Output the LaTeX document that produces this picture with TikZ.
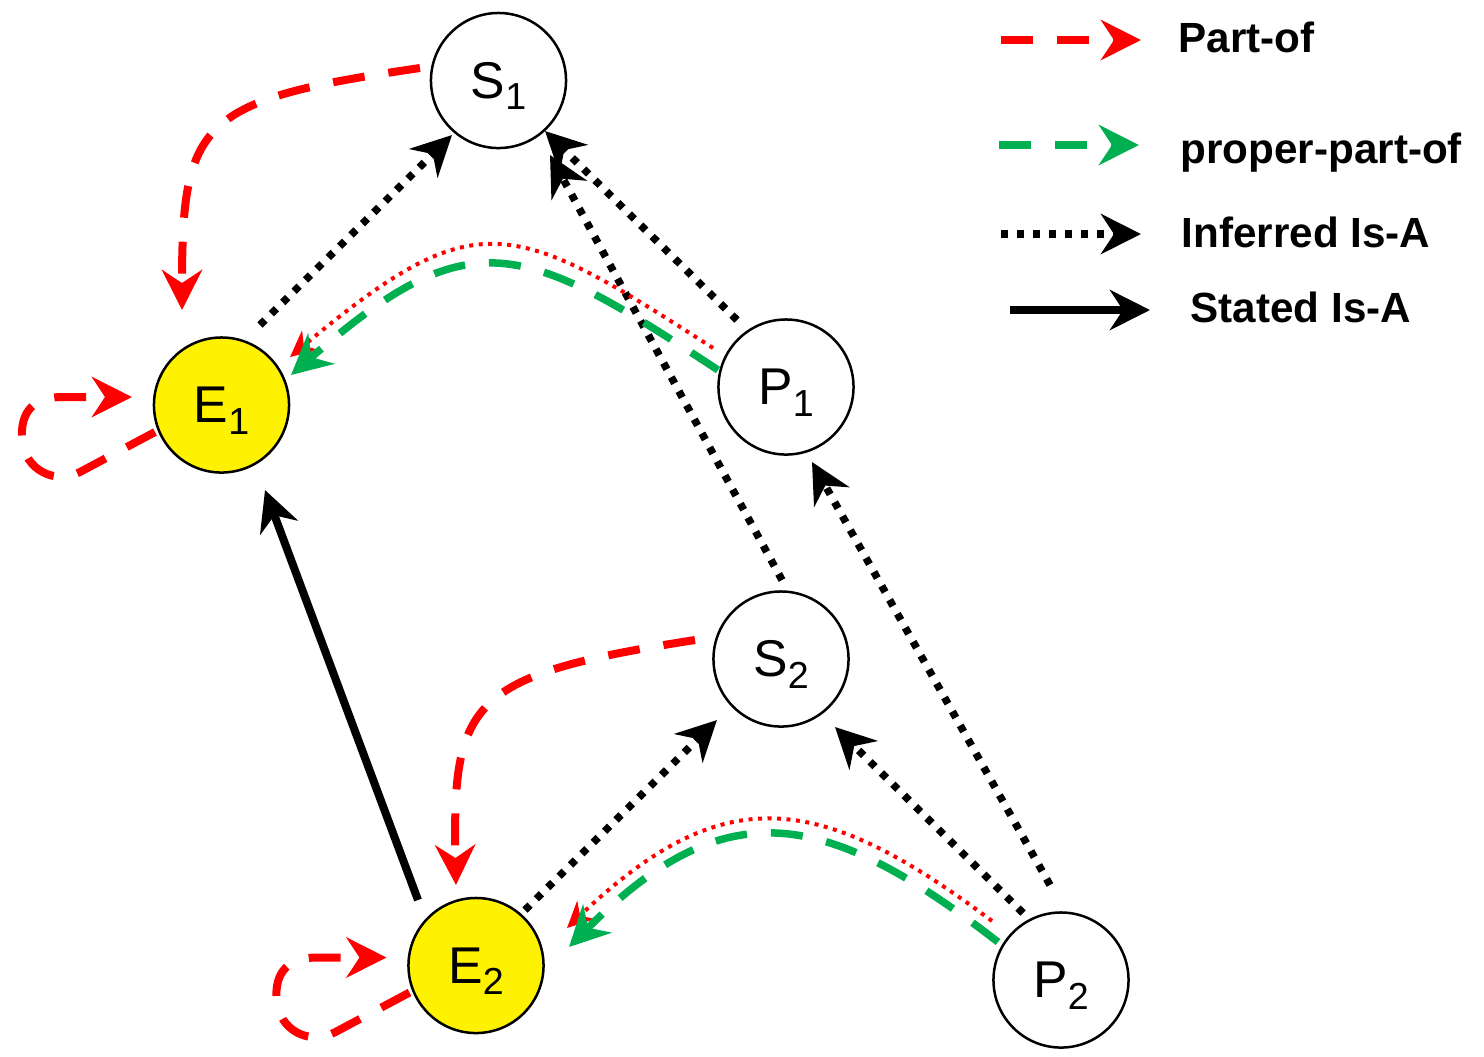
\documentclass[tikz,border=0pt]{standalone}
\usepackage{fontspec}
\setmainfont{Liberation Sans}
\usetikzlibrary{arrows.meta,calc}

% label with a lowered index that does not enlarge the box
\newcommand\idxlabel[2]{#1\raisebox{-3.3pt}[0pt][0pt]{\fontsize{10.7}{12}\selectfont #2}}

\definecolor{ppgreen}{RGB}{0,176,80}

\begin{document}
\begin{tikzpicture}[x=0.01cm,y=-0.01cm,
  concept/.style={circle,draw=black,line width=0.025cm,minimum size=1.35cm,
    inner sep=0pt,font=\fontsize{14.7}{16}\selectfont},
  entity/.style={concept,fill=yellow},
  bighead/.style={-{Stealth[length=0.4cm,width=0.4cm,inset=0.13cm]}},
  smallhead/.style={-{Stealth[length=0.26cm,width=0.25cm,inset=0.08cm]}},
  partof/.style={draw=red,line width=0.08cm,dash pattern=on 0.32cm off 0.24cm,bighead},
  properpart/.style={draw=ppgreen,line width=0.075cm,dash pattern=on 0.32cm off 0.24cm,bighead},
  partdot/.style={draw=red,line width=0.04cm,dash pattern=on 0.04cm off 0.055cm,smallhead},
  inferred/.style={draw=black,line width=0.075cm,dash pattern=on 0.07cm off 0.09cm,bighead},
  stated/.style={draw=black,line width=0.08cm,bighead},
  legendtext/.style={anchor=base west,inner sep=0pt,font=\fontsize{12}{14}\selectfont\bfseries}]

\useasboundingbox (0,0) rectangle (1484,1056);

% concepts
\node[concept] (S1) at (498.5,80.5) {\idxlabel{S}{1}};
\node[entity]  (E1) at (221.5,405)  {\idxlabel{E}{1}};
\node[concept] (P1) at (786,387)    {\idxlabel{P}{1}};
\node[concept] (S2) at (781,659)    {\idxlabel{S}{2}};
\node[entity]  (E2) at (476,965.5)  {\idxlabel{E}{2}};
\node[concept] (P2) at (1061,980)   {\idxlabel{P}{2}};

% part-of relations
\draw[partof] ($(S1)+(-78.5,-12.5)$) .. controls (200,100) and (182,120) .. ($(E1)+(-39.5,-95)$);
\draw[partof] ($(S2)+(-86,-19)$) .. controls (470,675) and (452,700) .. ($(E2)+(-20,-80.5)$);
\foreach \n in {E1,E2}{
  \draw[partof] ($(\n)+(-66.5,27)$) -- ($(\n)+(-141.5,67)$)
    .. controls ($(\n)+(-166.5,80)$) and ($(\n)+(-196.5,65)$) .. ($(\n)+(-199.5,35)$)
    .. controls ($(\n)+(-201.5,5)$) and ($(\n)+(-186.5,-7)$) .. ($(\n)+(-161.5,-8)$)
    -- ($(\n)+(-89.5,-8)$);
}

% inferred is-a relations
\draw[inferred] ($(E1)+(38.5,-80)$) -- ($(S1)+(-46.5,54.5)$);
\draw[inferred] ($(P1)+(-49,-67)$) -- ($(S1)+(46.5,50.5)$);
\draw[inferred] ($(S2)+(1,-79)$) -- ($(S1)+(51.5,74.5)$);
\draw[inferred] ($(P2)+(-11,-95)$) -- ($(P1)+(26,75)$);
\draw[inferred] ($(P2)+(-38,-67)$) -- ($(S2)+(54,68)$);
\draw[inferred] ($(E2)+(49,-55.5)$) -- ($(S2)+(-64,61)$);

% stated is-a relation
\draw[stated] ($(E2)+(-58,-65.5)$) -- ($(E1)+(43.5,85)$);

% proper-part-of and derived part-of relations
\draw[partdot] ($(P1)+(-73,-39)$) .. controls (511,218) and (477,201) .. ($(E1)+(68.5,-48)$);
\draw[properpart] ($(P1)+(-68,-17)$) .. controls (521,240) and (470,219) .. ($(E1)+(69.5,-30)$);
\draw[partdot] ($(P2)+(-69,-59)$) .. controls (819,791) and (723,779) .. ($(E2)+(91,-37.5)$);
\draw[properpart] ($(P2)+(-63,-38)$) .. controls (825,808) and (725,790) .. ($(E2)+(93,-18.5)$);

% legend
\coordinate (l1a) at (1001,40);  \coordinate (l1b) at (1141,40);
\coordinate (l2a) at (999,145);  \coordinate (l2b) at (1139,145);
\coordinate (l3a) at (1001,234); \coordinate (l3b) at (1141,234);
\coordinate (l4a) at (1010,310); \coordinate (l4b) at (1150,310);
\draw[partof] (l1a) -- (l1b);
\draw[properpart] (l2a) -- (l2b);
\draw[inferred] (l3a) -- (l3b);
\draw[stated] (l4a) -- (l4b);
\node[legendtext] (t1) at (1178,52)  {Part-of};
\node[legendtext] (t2) at (1180,163) {proper-part-of};
\node[legendtext] (t3) at (1181,247) {Inferred Is-A};
\node[legendtext] (t4) at (1190,322) {Stated Is-A};
\end{tikzpicture}
\end{document}
